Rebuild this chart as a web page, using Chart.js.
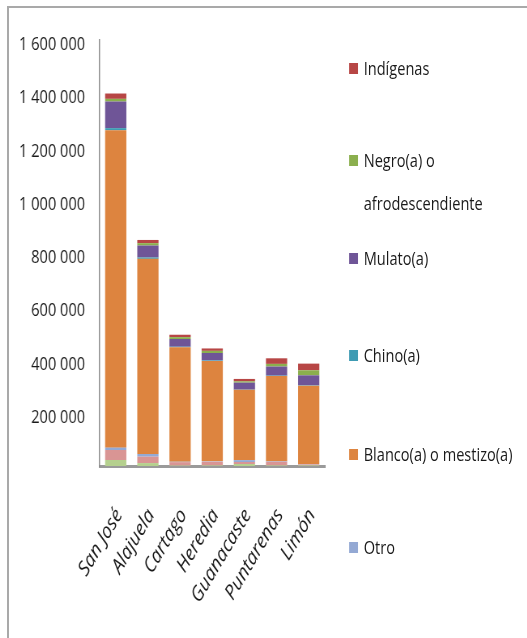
<!DOCTYPE html>
<html>
<head>
<meta charset="utf-8">
<title>Población por autoidentificación étnica</title>
<script src="https://cdn.jsdelivr.net/npm/chart.js@4.4.0/dist/chart.umd.min.js"></script>
<style>
  html, body { margin: 0; padding: 0; background: #fff; overflow: hidden; }
  #wrap { position: relative; width: 527px; height: 638px; overflow: hidden; }
  #frame { position: absolute; left: 7px; top: 6px; width: 600px; height: 700px;
           border: 2px solid #a9a9a9; box-sizing: border-box; }
  /* the chart is laid out wider and squeezed horizontally, giving a condensed look */
  #stage { position: absolute; left: 0; top: 0; width: 651px; height: 638px;
           transform: scaleX(0.81); transform-origin: 0 0; }
  #chart { position: absolute; left: 0; top: 0; }
  #legend { position: absolute; left: 0; top: 0; width: 651px; height: 638px; pointer-events: none;
            font-family: 'Open Sans', sans-serif; font-size: 18px; color: #1a1a1a; }
  .item { position: absolute; left: 431px; }
  .item .box { position: absolute; left: 0; top: 16px; width: 11px; height: 11px; }
  .item .txt { position: absolute; left: 18px; top: 0; width: 215px; line-height: 43px; }
</style>
</head>
<body>
<div id="wrap">
  <div id="frame"></div>
  <div id="stage">
    <canvas id="chart" width="651" height="638"></canvas>
    <div id="legend"></div>
  </div>
</div>
<script>
// Provincias
const provincias = ['San José', 'Alajuela', 'Cartago', 'Heredia', 'Guanacaste', 'Puntarenas', 'Limón'];

// Series, stacked from the bottom up
const noDeclarado = [22500, 11000, 1500, 2000, 7500, 2000, 2000];
const ninguno     = [37500, 24000, 13000, 14000, 7500, 14000, 4000];
const otro        = [9000, 10000, 1500, 1500, 7000, 2000, 1500];
const blanco      = [1192000, 733000, 430000, 377000, 264000, 320000, 294000];
const chino       = [8000, 5000, 2000, 2000, 1000, 1500, 1500];
const mulato      = [100000, 45000, 29000, 28000, 26000, 34000, 37500];
const negro       = [10000, 9000, 7000, 8000, 5000, 10000, 19000];
const indigenas   = [20000, 12000, 9000, 9000, 9000, 21000, 25000];

// Eje vertical
const yMax = 1600000;
const yStep = 200000;

// Centre line of each legend entry
const legendTops = [68, 160, 258, 355, 454, 547];

const fontFamily = "'Open Sans', sans-serif";

function conEspacios(v) {
  return String(v).replace(/\B(?=(\d{3})+(?!\d))/g, ' ');
}

function serie(label, data, color, enLeyenda) {
  return {
    label: label,
    data: data,
    backgroundColor: color,
    borderWidth: 0,
    categoryPercentage: 0.66,
    barPercentage: 1,
    enLeyenda: enLeyenda
  };
}

const datasets = [
  serie('No declarado', noDeclarado, '#b5d08e', false),
  serie('Ninguno', ninguno, '#d99594', false),
  serie('Otro', otro, '#94a9d4', true),
  serie('Blanco(a) o mestizo(a)', blanco, '#dd843f', true),
  serie('Chino(a)', chino, '#3e9bb3', true),
  serie('Mulato(a)', mulato, '#6f5597', true),
  serie('Negro(a) o afrodescendiente', negro, '#8baf4e', true),
  serie('Indígenas', indigenas, '#b74645', true)
];

const ctx = document.getElementById('chart').getContext('2d');
const chart = new Chart(ctx, {
  type: 'bar',
  data: { labels: provincias, datasets: datasets },
  options: {
    responsive: false,
    animation: false,
    layout: { padding: { left: 0, top: 40, right: 250, bottom: 0 } },
    plugins: {
      legend: { display: false },
      tooltip: { enabled: false }
    },
    scales: {
      x: {
        stacked: true,
        grid: { display: false, drawTicks: false },
        border: { color: '#9a9a9a', width: 3 },
        ticks: {
          minRotation: 54,
          maxRotation: 54,
          padding: 38,
          labelOffset: 4,
          color: '#1a1a1a',
          font: { family: fontFamily, size: 21, style: 'italic' }
        },
        afterFit: function(scale) { scale.height = 172; }
      },
      y: {
        stacked: true,
        min: 0,
        max: yMax,
        grid: { display: false, drawTicks: false },
        border: { color: '#8c8c8c', width: 1.5 },
        ticks: {
          stepSize: yStep,
          padding: 18,
          labelOffset: 5,
          color: '#1a1a1a',
          font: { family: fontFamily, size: 18 },
          callback: function(v) { return v === 0 ? '' : conEspacios(v); }
        },
        afterFit: function(scale) { scale.width = 123; }
      }
    }
  }
});

// Leyenda a la derecha, de arriba hacia abajo
const legend = document.getElementById('legend');
chart.data.datasets.filter(d => d.enLeyenda).reverse().forEach(function(d, i) {
  const item = document.createElement('div');
  item.className = 'item';
  item.style.top = (legendTops[i] - 21.5) + 'px';
  const box = document.createElement('span');
  box.className = 'box';
  box.style.background = d.backgroundColor;
  const txt = document.createElement('span');
  txt.className = 'txt';
  txt.textContent = d.label;
  item.appendChild(box);
  item.appendChild(txt);
  legend.appendChild(item);
});
</script>
</body>
</html>
